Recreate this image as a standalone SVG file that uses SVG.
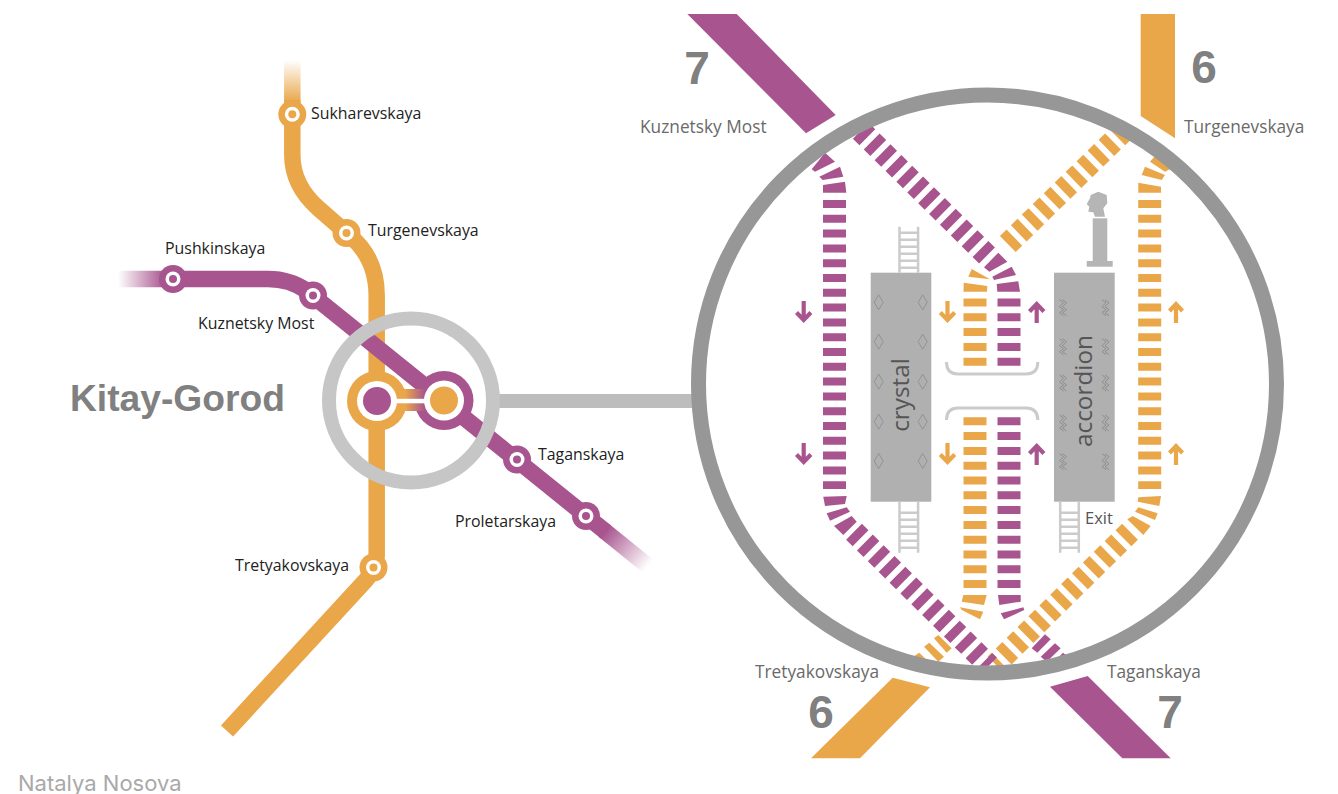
<svg xmlns="http://www.w3.org/2000/svg" width="1338" height="794" viewBox="0 0 1338 794">
<style>
.o{fill:#e9a74a}.p{fill:#a8558f}
.ol{stroke:#e9a74a}.pl{stroke:#a8558f}
.line{fill:none;stroke-width:16.5}
.tr{fill:none;stroke-width:23;stroke-dasharray:8 6.8}
.dg{fill:none;stroke-width:22.5;stroke-dasharray:9.200 6.100}
.lbl{font-family:"Open Sans","Noto Sans",sans-serif;font-size:15.900px;fill:#222}
.rl{font-family:"Open Sans","Noto Sans",sans-serif;font-size:17.300px;fill:#6a6a6a}
.num{font-family:"Liberation Sans",Arial,sans-serif;font-weight:700;font-size:46px;fill:#808080;text-anchor:middle}
.pan{fill:#b0b0b0}
.lad{fill:none;stroke:#cbcbcb;stroke-width:2.5}
.br{fill:none;stroke:#cbcbcb;stroke-width:3}
.dm{fill:none;stroke:#8a8a8a;stroke-width:.8}
.sq{fill:none;stroke:#8a8a8a;stroke-width:.9}
.ar{fill:none;stroke-width:4.2}
.in{font-family:"Open Sans","Noto Sans",sans-serif;font-size:24.300px;fill:#555;text-anchor:middle}
</style>
<defs>
<linearGradient id="fadeTop" gradientUnits="userSpaceOnUse" x1="0" y1="60" x2="0" y2="102"><stop offset="0" stop-color="#e9a74a" stop-opacity="0"/><stop offset="1" stop-color="#e9a74a"/></linearGradient>
<linearGradient id="fadeLeft" gradientUnits="userSpaceOnUse" x1="118" y1="0" x2="165" y2="0"><stop offset="0" stop-color="#a8558f" stop-opacity="0"/><stop offset="1" stop-color="#a8558f"/></linearGradient>
<linearGradient id="fadeEnd" gradientUnits="userSpaceOnUse" x1="605" y1="532" x2="648" y2="566"><stop offset="0" stop-color="#a8558f"/><stop offset="1" stop-color="#a8558f" stop-opacity="0"/></linearGradient>
<linearGradient id="link" gradientUnits="userSpaceOnUse" x1="405" y1="0" x2="425" y2="0"><stop offset="0" stop-color="#e9a74a"/><stop offset="1" stop-color="#a8558f"/></linearGradient>
<clipPath id="inner"><circle cx="987.5" cy="384" r="289"/></clipPath>
<g id="ladder"><path class="lad" d="M1.2 0V46M19.8 46V0M1.2 6H19.8M1.2 13H19.8M1.2 20H19.8M1.2 27H19.8M1.2 34H19.8M1.2 41H19.8"/></g>
<path id="dia" class="dm" d="M0 -7.5L4.5 0L0 7.5L-4.5 0Z"/>
<g id="squig"><path class="sq" d="M-2 -8L2 -5L-2 -1L2 2L-2 5L2 8"/><path class="sq" d="M1 -8L5 -5L1 -1L5 2L1 5L5 8"/></g>
</defs>

<g id="map-lines">
<path class="line" d="M292.300 60V102" stroke="url(#fadeTop)"/>
<path class="line ol" d="M292.300 100V155Q292.300 185 318 208L350 236Q376.700 258 376.700 296V556Q376.700 568 366 580L227 731"/>
<circle class="o" cx="377" cy="401" r="30"/>
<path class="line" d="M118 279H166" stroke="url(#fadeLeft)"/>
<path class="line pl" d="M164 279H268Q290 279 307 291L606 532"/>
<path class="line" d="M604 530.500L648 566" stroke="url(#fadeEnd)"/>
<circle class="p" cx="444" cy="400.500" r="29.500"/>
<rect x="400" y="389" width="28" height="22" fill="url(#link)"/>
<rect x="392" y="398.800" width="40" height="4.500" fill="#fff"/>
<circle cx="377" cy="401" r="20" fill="#fff"/><circle class="p" cx="377" cy="401" r="14"/>
<circle cx="444" cy="400.500" r="20" fill="#fff"/><circle class="o" cx="444" cy="400.500" r="14"/>
</g>

<g id="st-sukharevskaya"><circle class="o" cx="292.300" cy="114.300" r="14"/><circle cx="292.300" cy="114.300" r="7.500" fill="#fff"/><circle class="o" cx="292.300" cy="114.300" r="4"/><text class="lbl" x="311" y="118.500">Sukharevskaya</text></g>
<g id="st-turgenevskaya"><circle class="o" cx="346.500" cy="233" r="14"/><circle cx="346.500" cy="233" r="7.500" fill="#fff"/><circle class="o" cx="346.500" cy="233" r="4"/><text class="lbl" x="368" y="235.500">Turgenevskaya</text></g>
<g id="st-tretyakovskaya"><circle class="o" cx="373.500" cy="567.500" r="14"/><circle cx="373.500" cy="567.500" r="7.500" fill="#fff"/><circle class="o" cx="373.500" cy="567.500" r="4"/><text class="lbl" x="235" y="570.500">Tretyakovskaya</text></g>
<g id="st-pushkinskaya"><circle class="p" cx="173" cy="279" r="14"/><circle cx="173" cy="279" r="7.500" fill="#fff"/><circle class="p" cx="173" cy="279" r="4"/><text class="lbl" x="165" y="253.500">Pushkinskaya</text></g>
<g id="st-kuznetsky"><circle class="p" cx="313" cy="295.500" r="14"/><circle cx="313" cy="295.500" r="7.500" fill="#fff"/><circle class="p" cx="313" cy="295.500" r="4"/><text class="lbl" x="198" y="328.500">Kuznetsky Most</text></g>
<g id="st-taganskaya"><circle class="p" cx="517" cy="459.500" r="14"/><circle cx="517" cy="459.500" r="7.500" fill="#fff"/><circle class="p" cx="517" cy="459.500" r="4"/><text class="lbl" x="538" y="459.500">Taganskaya</text></g>
<g id="st-proletarskaya"><circle class="p" cx="586" cy="516" r="14"/><circle cx="586" cy="516" r="7.500" fill="#fff"/><circle class="p" cx="586" cy="516" r="4"/><text class="lbl" x="455" y="526.500">Proletarskaya</text></g>

<text x="70" y="411" font-family="Liberation Sans,Arial,sans-serif" font-weight="700" font-size="37.200" fill="#808080">Kitay-Gorod</text>

<g id="connectors">
<path d="M492 401H700" fill="none" stroke="#bdbdbd" stroke-width="14"/>
<circle cx="411" cy="400.500" r="82" fill="none" stroke="#c6c6c6" stroke-width="14"/>
</g>

<g id="outer-lines">
<polygon class="p" points="687.300,14 736.700,14 835.700,115 806,133.300"/>
<polygon class="o" points="1140.700,14 1175,14 1175,138.300 1140.700,116"/>
<polygon class="o" points="892.700,677.700 930,687.300 860,758.300 811,758.300"/>
<polygon class="p" points="1050,686.700 1087.700,676 1170.700,758.300 1122.300,758.300"/>
<text class="num" x="697" y="84">7</text>
<text class="num" x="1204" y="83">6</text>
<text class="num" x="821" y="728">6</text>
<text class="num" x="1170" y="728">7</text>
<text class="rl" x="640" y="133">Kuznetsky Most</text>
<text class="rl" x="1184" y="133">Turgenevskaya</text>
<text class="rl" x="755" y="678">Tretyakovskaya</text>
<text class="rl" x="1107" y="678">Taganskaya</text>
</g>

<g id="tracks" clip-path="url(#inner)">
<path class="tr pl" d="M834.500 200V489"/>
<polygon class="p" points="811.700,169.300 825,152.700 835,161.700 815,171.700"/>
<polygon class="p" points="819.300,176.700 840,166.700 843.300,176.700 822.700,180"/>
<polygon class="p" points="823,185 845,181.700 846.300,192.700 823,192.700"/>
<polygon class="p" points="823.300,496.700 846.700,496 845,504 825,506"/>
<polygon class="p" points="826.700,513.300 846.700,507.300 850,511.700 830,520.700"/>
<polygon class="p" points="834,526 851.700,516 856.700,521.700 843.300,535"/>
<path class="tr ol" d="M1149.700 200V489"/>
<polygon class="o" points="1155,156 1171.700,168.300 1165,171.700 1150,161.700"/>
<polygon class="o" points="1145,166.700 1165,175 1161.700,180 1141.700,175"/>
<polygon class="o" points="1138.300,182.700 1161,186.700 1161,192.700 1138.300,192.700"/>
<polygon class="o" points="1138.300,497.300 1161,496 1159.300,506 1137.700,501.700"/>
<polygon class="o" points="1135,511.700 1138.300,507.300 1157.700,513.300 1155,520"/>
<polygon class="o" points="1127.300,519.300 1132.700,516 1150.700,526 1143.300,535"/>
<path class="dg pl" d="M987 255.500L850 120"/>
<path class="dg ol" d="M1007.800 244L1135 120"/>
<path class="tr ol" d="M975 298.500V366"/>
<path class="tr pl" d="M1009 298.500V366"/>
<polygon class="o" points="963.700,282.700 987.300,286 987,291.700 963.500,291.700"/>
<polygon class="o" points="968.300,276.700 971.700,269 990,279.300"/>
<polygon class="p" points="996.700,284 1018.300,281.300 1020,291.700 997.300,291.700"/>
<polygon class="p" points="992.300,276.700 1011.700,266.700 1016,275 994,280"/>
<polygon class="p" points="984,267.300 998.300,252.700 1007.300,261.700 989.300,271.700"/>
<path class="tr ol" d="M975 417.300V589"/>
<path class="tr pl" d="M1009 417.300V589"/>
<polygon class="o" points="963.300,595 986.700,595 984,605 961.700,601.700"/>
<polygon class="o" points="960,607.300 983.300,611.700 980,619.300 961.700,610"/>
<polygon class="p" points="998,595 1020.700,595 1020.700,601.700 999.300,605"/>
<polygon class="p" points="1000.700,613.300 1023.300,607.300 1024.300,610 1004,619.300"/>
<polygon class="o" points="934,638.300 938.300,635 951.700,648.300 946.700,652.700"/>
<polygon class="o" points="924,646.700 929.300,642.700 944,656.700 938.300,661.700"/>
<polygon class="o" points="914.300,656 919.300,652.700 930,663.300 925,668"/>
<polygon class="p" points="1031.700,648.300 1045,634.300 1050.700,639.300 1037.300,652.700"/>
<polygon class="p" points="1040.700,656.700 1055,643.300 1060.700,648.300 1046.700,661.700"/>
<polygon class="p" points="1053,663 1063,652.700 1068,656.700 1058,667"/>
<path class="dg ol" d="M1130 531.700L995.500 664.500"/>
<path class="dg pl" d="M854 531.700L989 665.500"/>
</g>

<g id="ring"><circle cx="987.500" cy="384" r="289" fill="none" stroke="#979797" stroke-width="15"/></g>

<g id="crystal">
<rect class="pan" x="870.700" y="272.700" width="60.600" height="229"/>
<use href="#ladder" x="898.300" y="226.700"/>
<use href="#ladder" x="898.300" y="506.700"/>
<path class="lad" d="M899.500 501.700V507M918.100 501.700V507"/>
<use href="#dia" x="878.700" y="302.300"/><use href="#dia" x="922.700" y="302.300"/>
<use href="#dia" x="878.700" y="341.700"/><use href="#dia" x="922.700" y="341.700"/>
<use href="#dia" x="878.700" y="381.700"/><use href="#dia" x="922.700" y="381.700"/>
<use href="#dia" x="878.700" y="421.700"/><use href="#dia" x="922.700" y="421.700"/>
<use href="#dia" x="878.700" y="461"/><use href="#dia" x="922.700" y="461"/>
<text class="in" transform="translate(909 395) rotate(-90)">crystal</text>
</g>

<g id="accordion">
<rect class="pan" x="1054" y="272.700" width="60.700" height="229"/>
<use href="#ladder" x="1059" y="506.700"/>
<path class="lad" d="M1060.200 501.700V507M1078.800 501.700V507"/>
<use href="#squig" x="1061.500" y="307.700"/><use href="#squig" x="1104" y="307.700"/>
<use href="#squig" x="1061.500" y="346.700"/><use href="#squig" x="1104" y="346.700"/>
<use href="#squig" x="1061.500" y="383"/><use href="#squig" x="1104" y="383"/>
<use href="#squig" x="1061.500" y="423"/><use href="#squig" x="1104" y="423"/>
<use href="#squig" x="1061.500" y="461.700"/><use href="#squig" x="1104" y="461.700"/>
<text class="in" transform="translate(1092 391) rotate(-90)">accordion</text>
<text x="1085" y="524" font-family="Open Sans,Noto Sans,sans-serif" font-size="16.500" fill="#555">Exit</text>
</g>

<g id="bust" fill="#b5b5b5">
<polygon points="1090.700,195 1098.300,191.700 1106.700,195 1107.300,203.300 1103.300,208.300 1105,216.700 1095,216.700 1093.300,212.300 1088.300,211.700 1089.300,206.700 1086.700,204 1090,198.300"/>
<rect x="1092.700" y="218.300" width="14.600" height="43"/>
<rect x="1086.700" y="261" width="26" height="5.700"/>
</g>

<g id="platforms">
<path class="br" d="M946.500 362Q946.500 374 958 374H1026Q1037.800 374 1037.800 362"/>
<path class="br" d="M946.500 420Q946.500 408 958 408H1026Q1037.800 408 1037.800 420"/>
</g>

<g id="arrows">
<g class="pl"><path class="ar" d="M803.700 301V320M796.500 312.500L803.700 320L810.900 312.500"/><path class="ar" d="M803.700 443V462M796.500 454.500L803.700 462L810.900 454.500"/>
<path class="ar" d="M1036.700 323V304M1029.500 311.500L1036.700 304L1043.900 311.500"/><path class="ar" d="M1036.700 465V446M1029.500 453.500L1036.700 446L1043.900 453.500"/></g>
<g class="ol"><path class="ar" d="M947.500 301V320M940.300 312.500L947.500 320L954.700 312.500"/><path class="ar" d="M947.500 443V462M940.300 454.500L947.500 462L954.700 454.500"/>
<path class="ar" d="M1176 323V304M1169.500 311L1176 304L1182.500 311"/><path class="ar" d="M1176 465V446M1169.500 453L1176 446L1182.500 453"/></g>
</g>

<text x="18" y="791" font-family="Inter,Roboto,sans-serif" font-size="22" fill="#a9a9a9">Natalya Nosova</text>
</svg>
